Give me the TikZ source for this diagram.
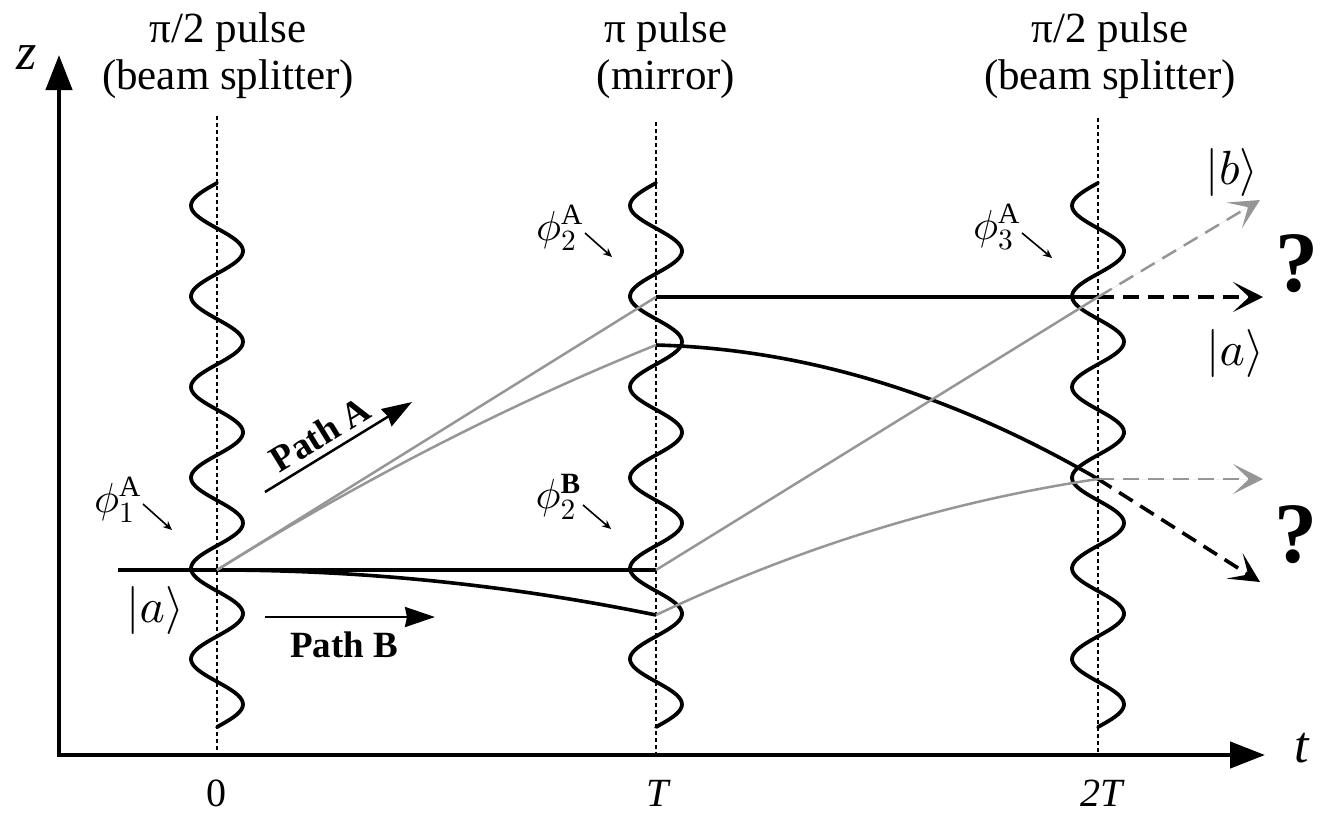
\documentclass[tikz,border=0pt]{standalone}
\DeclareFontShape{OML}{cmm}{m}{it}{<->cmmi10}{}
\DeclareFontShape{OMS}{cmsy}{m}{n}{<->cmsy10}{}
\DeclareFontShape{OMX}{cmex}{m}{n}{<->cmex10}{}
\DeclareFontShape{OT1}{cmr}{m}{n}{<->cmr10}{}
\usepackage{fontspec}
\setmainfont{Liberation Serif}
\usetikzlibrary{arrows.meta}
\definecolor{lgray}{RGB}{150,150,150}
\begin{document}
\begin{tikzpicture}[x=1pt,y=-1pt,
  wave/.style={line width=3.8pt,line cap=round},
  blk/.style={line width=3.6pt},
  gry/.style={line width=2.5pt,draw=lgray},
  vdot/.style={line width=2pt,dash pattern=on 4pt off 3pt},
  axisln/.style={line width=4.5pt,line join=miter,{Triangle[length=35pt,width=26pt]}-{Triangle[length=35pt,width=26pt]}},
  darr/.style={dash pattern=on 16pt off 9pt,-{Stealth[length=30pt,width=30pt,inset=16pt]}},
  patharr/.style={line width=2.5pt,-{Stealth[length=30pt,width=20pt,inset=2pt]}},
  phiarr/.style={line width=1.6pt,-{Stealth[length=9pt,width=8pt]}},
  toplbl/.style={align=center,inner sep=0pt,anchor=north,font=\fontsize{43}{47}\selectfont},
  axlbl/.style={inner sep=0pt,font=\fontsize{52}{56}\selectfont},
  ticklbl/.style={inner sep=0pt,anchor=base,font=\fontsize{40}{44}\selectfont},
  phil/.style={inner sep=0pt,anchor=east,font=\fontsize{42}{44}\selectfont},
  ketl/.style={inner sep=0pt,font=\fontsize{48}{50}\selectfont},
  qmark/.style={inner sep=0pt,font=\fontsize{86}{90}\selectfont\bfseries},
  pathl/.style={inner sep=0pt,font=\fontsize{37}{40}\selectfont\bfseries}
]
\useasboundingbox (0,0) rectangle (1323,812);

% axes
\coordinate (zt) at (59,55);
\coordinate (orig) at (59,755);
\coordinate (tt) at (1265,755);
\draw[axisln] (zt) -- (orig) -- (tt);
\node[axlbl] (zl) at (27,58) {\textit{z}};
\node[axlbl] (tl) at (1302,748) {\textit{t}};

% dotted vertical lines
\coordinate (d0t) at (217,116); \coordinate (d0b) at (217,755);
\coordinate (d1t) at (656,122); \coordinate (d1b) at (656,755);
\coordinate (d2t) at (1098,118); \coordinate (d2b) at (1098,755);
\draw[vdot] (d0t) -- (d0b);
\draw[vdot] (d1t) -- (d1b);
\draw[vdot] (d2t) -- (d2b);

% top labels
\node[toplbl] (lab0) at (228,12) {π/2 pulse\\(beam splitter)};
\node[toplbl] (lab1) at (666,12) {π pulse\\(mirror)};
\node[toplbl] (lab2) at (1110,12) {π/2 pulse\\(beam splitter)};

% tick labels
\node[ticklbl] (t0) at (216,806) {0};
\node[ticklbl] (t1) at (659,806) {\textit{T}};
\node[ticklbl] (t2) at (1103,806) {\textit{2T}};

% waves
\foreach \xc in {217,656,1098}{
  \draw[wave] plot[domain=0:544,samples=220,variable=\s] ({\xc-26*sin(3.9705*\s)},{\s+183});
}

% key points
\coordinate (in) at (118,570);
\coordinate (s0) at (217,570);
\coordinate (mA) at (656,297);
\coordinate (mA2) at (656,345);
\coordinate (mB) at (656,570);
\coordinate (mB2) at (656,615);
\coordinate (o1) at (1098,297);
\coordinate (o2) at (1098,479);
\coordinate (ta) at (1263,297);
\coordinate (tb) at (1260,200);
\coordinate (tc) at (1263,479);
\coordinate (td) at (1260,582);

% black paths
\draw[blk] (in) -- (s0) -- (mB);
\draw[blk] (s0) .. controls (363.3,570) and (509.7,585) .. (mB2);
\draw[blk] (mA) -- (o1);
\draw[blk] (mA2) .. controls (803.3,349) and (950.7,393.3) .. (o2);
\draw[darr,line width=3.6pt] (o1) -- (ta);
\draw[darr,line width=3.6pt] (o2) -- (td);

% gray paths
\draw[gry] (s0) -- (mA);
\draw[gry] (s0) .. controls (363.3,479) and (509.7,404) .. (mA2);
\draw[gry] (mB) -- (o1);
\draw[gry] (mB2) .. controls (803.3,545.3) and (950.7,500.9) .. (o2);
\draw[darr,line width=2.5pt,draw=lgray,fill=lgray] (o1) -- (tb);
\draw[darr,line width=2.5pt,draw=lgray,fill=lgray] (o2) -- (tc);

% path arrows
\coordinate (pa0) at (265,492); \coordinate (pa1) at (412,402);
\draw[patharr] (pa0) -- (pa1);
\node[pathl,rotate=31.5] (pathA) at (320,434) {Path A};
\coordinate (pb0) at (265,617); \coordinate (pb1) at (435,617);
\draw[patharr] (pb0) -- (pb1);
\node[pathl] (pathB) at (344,645) {Path B};

% phase labels
\node[phil] (ph1) at (141,500) {$\phi^{\mathrm{A}}_{1}$};
\coordinate (a1s) at (143,504); \coordinate (a1e) at (172,530);
\draw[phiarr] (a1s) -- (a1e);
\node[phil] (ph2) at (583,228) {$\phi^{\mathrm{A}}_{2}$};
\coordinate (a2s) at (585,233); \coordinate (a2e) at (612,257);
\draw[phiarr] (a2s) -- (a2e);
\node[phil] (ph3) at (581,497) {$\phi^{\mathbf{B}}_{2}$};
\coordinate (a3s) at (583,505); \coordinate (a3e) at (611,529);
\draw[phiarr] (a3s) -- (a3e);
\node[phil] (ph4) at (1020,227) {$\phi^{\mathrm{A}}_{3}$};
\coordinate (a4s) at (1022,233); \coordinate (a4e) at (1052,258);
\draw[phiarr] (a4s) -- (a4e);

% kets
\node[ketl] (keta) at (155,610) {$\bigl|a\bigr\rangle$};
\node[ketl] (ketb) at (1232,172) {$\bigl|b\bigr\rangle$};
\node[ketl] (keta2) at (1235,353) {$\bigl|a\bigr\rangle$};

% question marks
\node[qmark] (q1) at (1297,264) {?};
\node[qmark] (q2) at (1296,535) {?};
\end{tikzpicture}
\end{document}
